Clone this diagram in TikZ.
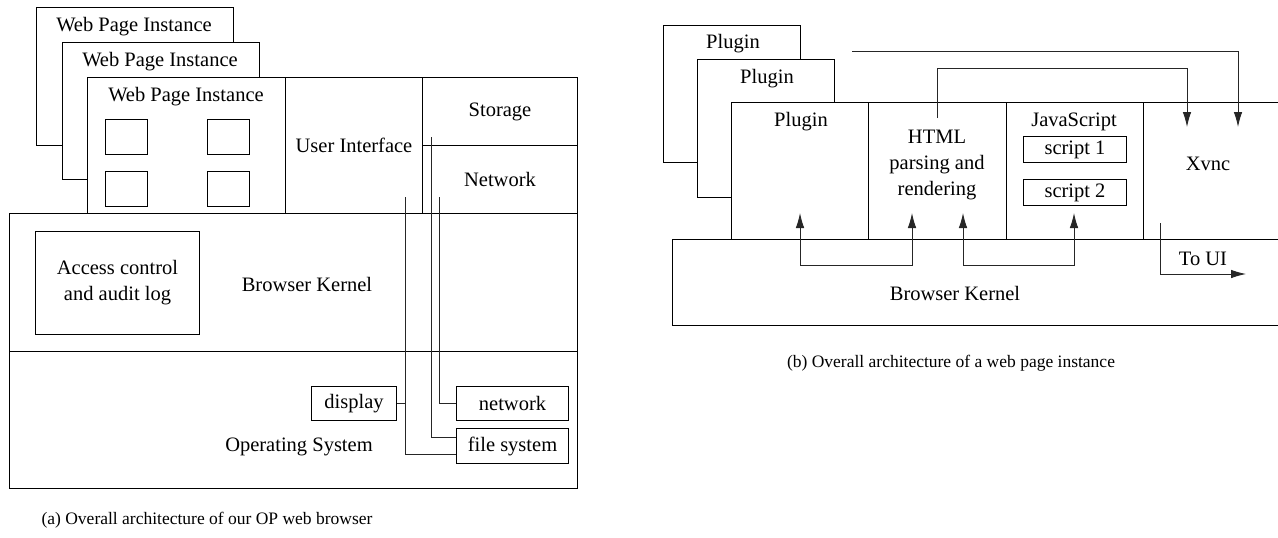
\documentclass[tikz,border=0pt]{standalone}
\usepackage{fontspec}
\setmainfont{Liberation Serif}
\usetikzlibrary{arrows.meta}
\begin{document}
\begin{tikzpicture}[x=1pt,y=-1pt]
    \def\cw{42pt}
    \def\ch{35pt}
    \tikzstyle{box}=[draw, fill=white, anchor=north west, inner sep=0pt, line width=1pt, font=\fontsize{20.5}{26}\selectfont, align=center]
    \tikzstyle{lbl}=[inner sep=0pt, font=\fontsize{20.5}{26}\selectfont]
    \tikzstyle{caption}=[inner sep=0pt, font=\fontsize{17.5}{21}\selectfont]
    \tikzstyle{wire}=[draw=black!85, line width=0.9pt]
    \tikzstyle{flow}=[wire, -{Latex[length=15pt,width=8.5pt]}]
    \tikzstyle{twoway}=[wire, {Latex[length=15pt,width=8.5pt]}-{Latex[length=15pt,width=8.5pt]}]

    \useasboundingbox (0,0) rectangle (1278,538);
    \clip (0,0) rectangle (1278,538);

    \node[box, minimum width=197pt, minimum height=138pt] (wpiA) at (36,7) {};
    \node[lbl] (wpiAtxt) at (134,27) {Web Page Instance};
    \node[box, minimum width=197pt, minimum height=137pt] (wpiB) at (62,42) {};
    \node[lbl] (wpiBtxt) at (160,62) {Web Page Instance};
    \node[box, minimum width=198pt, minimum height=136pt] (wpiC) at (87,77) {};
    \node[lbl] (wpiCtxt) at (186,97) {Web Page Instance};
    \node[box, minimum width=\cw, minimum height=\ch] (cellA) at (105,119) {};
    \node[box, minimum width=\cw, minimum height=\ch] (cellB) at (207,119) {};
    \node[box, minimum width=\cw, minimum height=\ch] (cellC) at (105,171) {};
    \node[box, minimum width=\cw, minimum height=\ch] (cellD) at (207,171) {};
    \node[box, minimum width=137pt, minimum height=136pt] (ui) at (285,77) {User Interface};
    \node[box, minimum width=155pt, minimum height=68pt] (storage) at (422,77) {Storage};
    \node[box, minimum width=155pt, minimum height=68pt] (network) at (422,145) {Network};

    \node[box, minimum width=568pt, minimum height=138pt] (kernelA) at (9,213) {};
    \node[lbl] (kernelAtxt) at (307,284) {Browser Kernel};
    \node[box, minimum width=164pt, minimum height=103pt] (acl) at (35,231) {Access control\\and audit log};
    \node[box, minimum width=568pt, minimum height=137pt] (os) at (9,351) {};
    \node[lbl] (ostxt) at (299,447) {Operating System};
    \node[box, minimum width=85pt, minimum height=34pt] (display) at (311,386) {display};
    \node[box, minimum width=112pt, minimum height=34pt] (netos) at (456,386) {network};
    \node[box, minimum width=112pt, minimum height=35pt] (fs) at (456,428) {file system};

    \coordinate (uiOut) at (405,197);
    \coordinate (storageOut) at (431,137);
    \coordinate (networkOut) at (439,197);
    \draw[wire] (uiOut) |- ([yshift=-8.5pt]fs.west);
    \draw[wire] (display.east) -- (display.east -| uiOut);
    \draw[wire] (storageOut) |- ([yshift=8.5pt]fs.west);
    \draw[wire] (networkOut) |- (netos.west);

    \node[caption] (capA) at (207,520) {(a) Overall architecture of our OP web browser};

    \node[box, minimum width=137pt, minimum height=137pt] (plugA) at (663,25) {};
    \node[lbl] (plugAtxt) at (733,44) {Plugin};
    \node[box, minimum width=137pt, minimum height=138pt] (plugB) at (697,59) {};
    \node[lbl] (plugBtxt) at (767,79) {Plugin};
    \node[box, minimum width=137pt, minimum height=137pt] (plugC) at (731,102) {};
    \node[lbl] (plugCtxt) at (801,122) {Plugin};
    \node[box, minimum width=138pt, minimum height=137pt] (html) at (868,102) {};
    \node[lbl, align=center] (htmltxt) at (937,165) {HTML\\parsing and\\rendering};
    \node[box, minimum width=137pt, minimum height=137pt] (js) at (1006,102) {};
    \node[lbl] (jstxt) at (1074,122) {JavaScript};
    \node[box, minimum width=103pt, minimum height=26pt] (scriptA) at (1023,136) {script 1};
    \node[box, minimum width=103pt, minimum height=26pt] (scriptB) at (1023,179) {script 2};
    \node[box, minimum width=160pt, minimum height=137pt] (xvnc) at (1143,102) {};
    \node[lbl] (xvnctxt) at (1208,164) {Xvnc};
    \node[box, minimum width=640pt, minimum height=86pt] (kernelB) at (672,239) {};
    \node[lbl] (kernelBtxt) at (955,293) {Browser Kernel};
    \node[lbl] (touitxt) at (1203,259) {To UI};

    \coordinate (plugIn) at (800,213);
    \coordinate (htmlInA) at (912,213);
    \coordinate (htmlInB) at (963,213);
    \coordinate (jsIn) at (1074,213);
    \coordinate (plugOut) at (852,51);
    \coordinate (htmlOut) at (937,118);
    \coordinate (xvncInA) at (1238,127);
    \coordinate (xvncInB) at (1187,127);
    \coordinate (xvncOut) at (1160,223);
    \coordinate (toUI) at (1246,274);

    \draw[twoway] (plugIn) -- ++(0,52) -| (htmlInA);
    \draw[twoway] (htmlInB) -- ++(0,52) -| (jsIn);
    \draw[flow] (plugOut) -| (xvncInA);
    \draw[flow] (htmlOut) -- ++(0,-50) -| (xvncInB);
    \draw[flow] (xvncOut) |- (toUI);

    \node[caption] (capB) at (951,363) {(b) Overall architecture of a web page instance};
\end{tikzpicture}
\end{document}
